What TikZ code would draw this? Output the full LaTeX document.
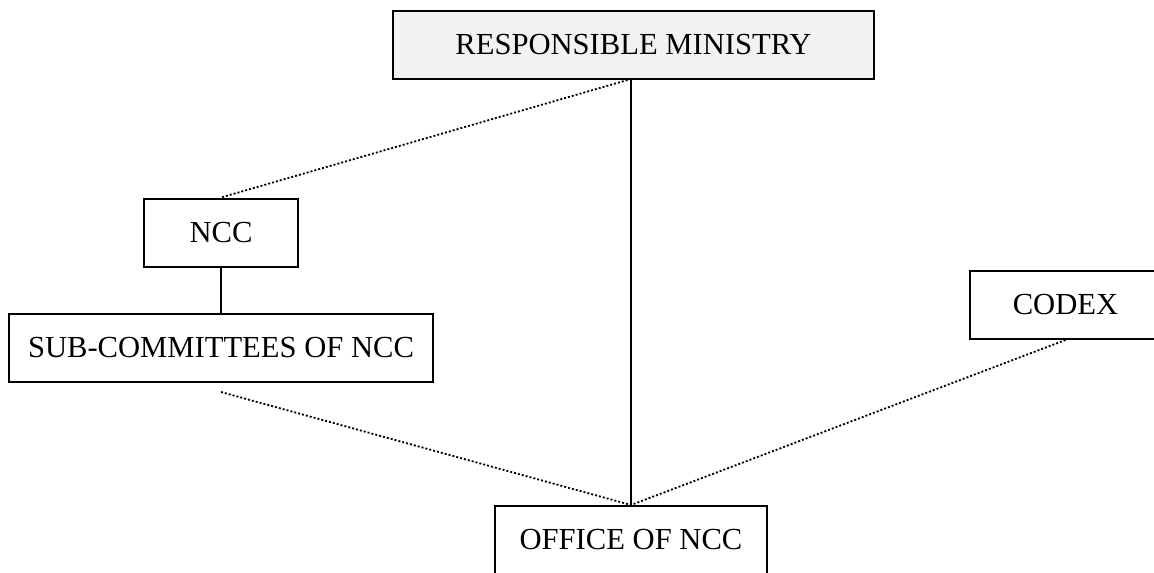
\documentclass[tikz,border=0pt]{standalone}
\usepackage{fontspec}
\setmainfont{Liberation Serif}

\definecolor{boxfill}{RGB}{242,242,242}
\definecolor{linecolor}{RGB}{0,0,0}

\tikzset{
  orgbox/.style={draw=linecolor, line width=1pt, minimum height=34pt, inner sep=2pt,
    font=\fontsize{15.3}{18}\selectfont},
  solidlink/.style={draw=linecolor, line width=1pt},
  dottedlink/.style={draw=linecolor, line width=0.9pt, dash pattern=on 1pt off 1pt}
}

\begin{document}
\begin{tikzpicture}[x=0.5pt, y=-0.5pt]
      % Fix the frame of the picture
      \useasboundingbox (0,0) rectangle (1154,572);
      \clip (0,0) rectangle (1154,572);

      % Draw the boxes
      \node[orgbox, fill=boxfill, minimum width=240.5pt] (ministry) at (633.5,45) {RESPONSIBLE MINISTRY};
      \node[orgbox, minimum width=77pt] (ncc) at (221,232.5) {NCC};
      \node[orgbox, minimum width=212pt] (subcom) at (221,348) {SUB-COMMITTEES OF NCC};
      \node[orgbox, minimum width=95.5pt] (codex) at (1065.5,305) {CODEX};
      \node[orgbox, minimum width=136pt] (office) at (631,540) {OFFICE OF NCC};

      % Solid links
      \draw[solidlink] (office.north) -- (office.north |- ministry.south);
      \draw[solidlink] (ncc.south) -- (subcom.north);

      % Dotted links
      \draw[dottedlink] ([xshift=-3pt]ministry.south) -- (ncc.north);
      \draw[dottedlink] ([yshift=-4.5pt]subcom.south) -- (office.north);
      \draw[dottedlink] (codex.south) -- (office.north);
    \end{tikzpicture}
\end{document}
